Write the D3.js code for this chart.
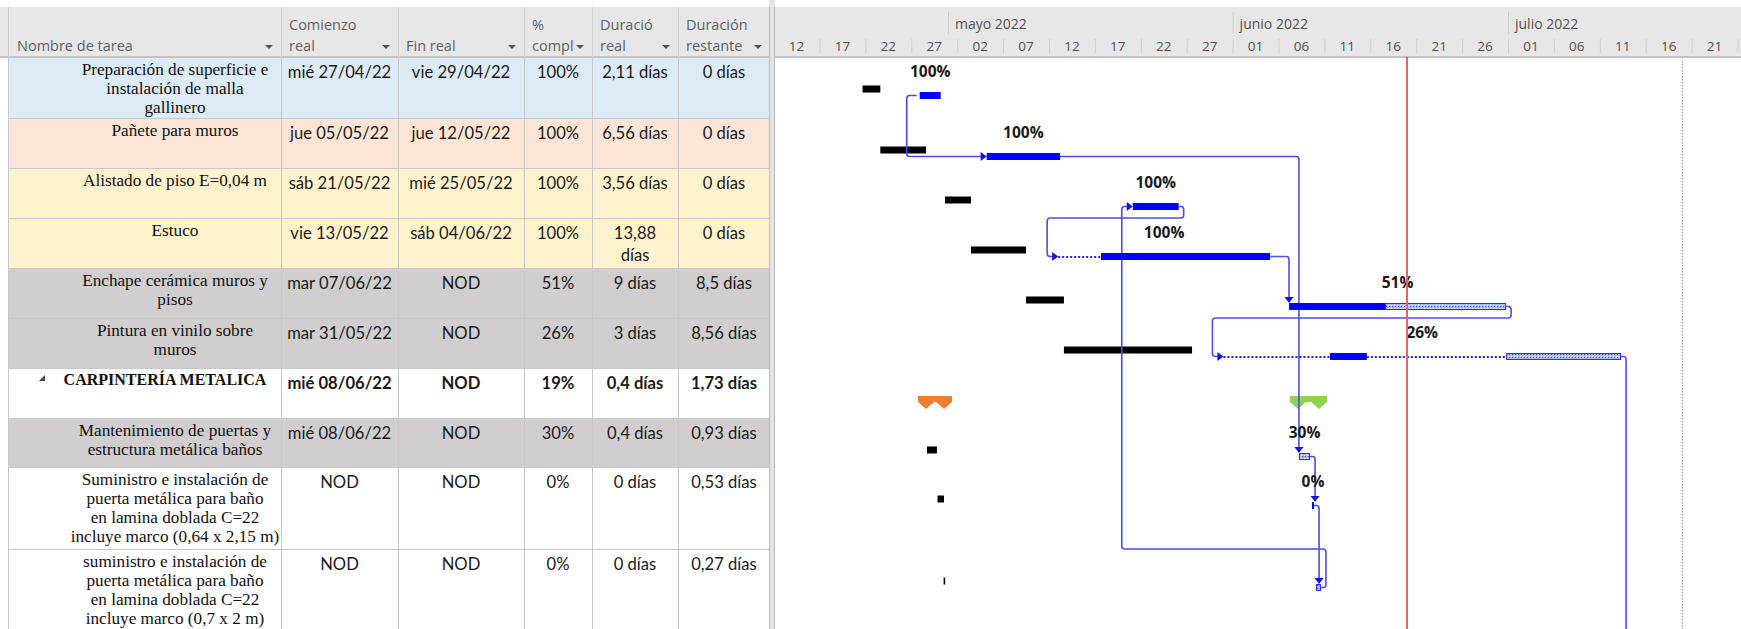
<!DOCTYPE html>
<html><head><meta charset="utf-8">
<script src="https://cdn.jsdelivr.net/npm/d3@7"></script>
<style>
html,body{margin:0;padding:0;background:#fff;overflow:hidden}
svg{display:block}
</style></head><body>
<svg id="c" width="1741" height="629"></svg>
<script>
// ---------------- DATA ----------------
const taskNames = [
  ["Preparación de superficie e","instalación de malla","gallinero"],
  ["Pañete para muros"],
  ["Alistado de piso E=0,04 m"],
  ["Estuco"],
  ["Enchape cerámica muros y","pisos"],
  ["Pintura en vinilo sobre","muros"],
  ["CARPINTERÍA METALICA"],
  ["Mantenimiento de puertas y","estructura metálica baños"],
  ["Suministro e instalación de","puerta metálica para baño","en lamina doblada C=22","incluye marco (0,64 x 2,15 m)"],
  ["suministro e instalación de","puerta metálica para baño","en lamina doblada C=22","incluye marco (0,7 x 2 m)"]
];
const isSummary = [false,false,false,false,false,false,true,false,false,false];
const comienzoReal = ["mié 27/04/22","jue 05/05/22","sáb 21/05/22","vie 13/05/22","mar 07/06/22","mar 31/05/22","mié 08/06/22","mié 08/06/22","NOD","NOD"];
const finReal = ["vie 29/04/22","jue 12/05/22","mié 25/05/22","sáb 04/06/22","NOD","NOD","NOD","NOD","NOD","NOD"];
const pctComp = ["100%","100%","100%","100%","51%","26%","19%","30%","0%","0%"];
const durReal = [["2,11 días"],["6,56 días"],["3,56 días"],["13,88","días"],["9 días"],["3 días"],["0,4 días"],["0,4 días"],["0 días"],["0 días"]];
const durRest = ["0 días","0 días","0 días","0 días","8,5 días","8,56 días","1,73 días","0,93 días","0,53 días","0,27 días"];
const headerLabels = [["Nombre de tarea"],["Comienzo","real"],["Fin real"],["%","compl"],["Duració","real"],["Duración","restante"]];

// black (baseline) bars
const baselineStart = ["2022-04-21T16:30","2022-04-23T15:00","2022-04-30T16:00","2022-05-03T12:00","2022-05-09T12:00","2022-05-13T15:00",null,"2022-04-28T17:00","2022-04-29T20:30","2022-04-30T12:30"];
const baselineEnd   = ["2022-04-23T15:00","2022-04-28T14:30","2022-05-03T12:00","2022-05-09T12:00","2022-05-13T15:00","2022-05-27T14:00",null,"2022-04-29T19:00","2022-04-30T13:30","2022-04-30T16:30"];

// actual bar segments: [kind, start, end]
const actualSegments = [
  [["solid","2022-04-27T22:00","2022-04-30T05:00"]],
  [["solid","2022-05-05T05:00","2022-05-13T05:00"]],
  [["solid","2022-05-21T03:00","2022-05-26T03:00"]],
  [["dotted","2022-05-13T00:00","2022-05-17T16:00"],["solid","2022-05-17T16:00","2022-06-05T02:00"]],
  [["solid","2022-06-07T03:30","2022-06-17T14:30"],["hatch","2022-06-17T14:30","2022-06-30T19:00"]],
  [["dotted","2022-05-31T00:00","2022-06-11T14:40"],["solid","2022-06-11T14:40","2022-06-15T15:00"],["dotted","2022-06-15T15:00","2022-06-30T19:00"],["hatch","2022-06-30T19:00","2022-07-13T07:40"]],
  [],
  [["hatch","2022-06-08T05:30","2022-06-09T10:30"]],
  [["solid","2022-06-09T15:30","2022-06-09T21:00"]],
  [["hatch","2022-06-10T02:00","2022-06-10T15:00"]]
];
const barLabels = ["100%","100%","100%","100%","51%","26%","","30%","0%",""];
const summaryBaseline = ["2022-04-27T17:30","2022-05-01T10:30"];
const summaryActual = ["2022-06-07T06:00","2022-06-11T06:45"];
// links: [from, to, type]  (to = 10 -> task below visible area)
const links = [[0,1,"SS"],[1,7,"FS"],[2,3,"FS"],[3,4,"FS"],[4,5,"FS"],[5,10,"FS"],[7,8,"FS"],[8,9,"FS"],[9,2,"FS"]];

const tickDates = ["2022-04-12","2022-04-17","2022-04-22","2022-04-27","2022-05-02","2022-05-07","2022-05-12","2022-05-17","2022-05-22","2022-05-27","2022-06-01","2022-06-06","2022-06-11","2022-06-16","2022-06-21","2022-06-26","2022-07-01","2022-07-06","2022-07-11","2022-07-16","2022-07-21","2022-07-26"];
const monthStarts = ["2022-05-01","2022-06-01","2022-07-01"];
const monthLabels = ["mayo 2022","junio 2022","julio 2022"];
const statusDate = "2022-06-20";
const guideDate = "2022-07-20T00:00";

// ---------------- LAYOUT ----------------
const W = 1741, H = 629;
const colX = [8,281,398,524,592,678,770];
const rowHeights = [61,50,50,50,50,50,50,49,82,80];
const headerTop = 7, headerBottom = 57;
const tlLeft = 775;
const rowColors = ["#ddebf7","#fce4d6","#fff2cc","#fff2cc","#d0cece","#d0cece","#ffffff","#d0cece","#ffffff","#ffffff"];
const rowTops = [];
{ let y = 58; rowHeights.forEach(h => { rowTops.push(y); y += h; }); }

const pT = d3.timeParse("%Y-%m-%dT%H:%M");
const pD = d3.timeParse("%Y-%m-%d");
const P = s => pT(s) || pD(s);

const x = d3.scaleTime()
  .domain([P("2022-04-12"), P("2022-07-27")])
  .range([773.6, 773.6 + 106 * 9.18]);

const svg = d3.select("#c");
const defs = svg.append("defs");
defs.append("clipPath").attr("id","tl").append("rect")
  .attr("x", tlLeft).attr("y", 0).attr("width", W - tlLeft).attr("height", H);
const pat = defs.append("pattern").attr("id","hatch").attr("patternUnits","userSpaceOnUse")
  .attr("width",3).attr("height",3);
pat.append("rect").attr("width",3).attr("height",3).attr("fill","#b4b8ff");
pat.append("rect").attr("width",1).attr("height",1).attr("fill","#3c3cff");
pat.append("rect").attr("x",2).attr("y",2).attr("width",1).attr("height",1).attr("fill","#ffffff");
defs.append("clipPath").attr("id","pc").append("rect")
  .attr("x", colX[3]).attr("y", 0).attr("width", colX[4]-colX[3]-18).attr("height", 60);

svg.append("rect").attr("width",W).attr("height",H).attr("fill","#fff");

// ---------------- TABLE ----------------
const table = svg.append("g");
rowTops.forEach((t,i) => {
  table.append("rect").attr("x", colX[0]).attr("y", t).attr("width", colX[6]-colX[0]).attr("height", rowHeights[i]).attr("fill", rowColors[i]);
});
rowTops.forEach((t,i) => {
  table.append("line").attr("x1",colX[0]).attr("x2",colX[6]).attr("y1",t+rowHeights[i]-0.5).attr("y2",t+rowHeights[i]-0.5)
    .attr("stroke","#c8c8c8").attr("stroke-width",1);
});
colX.forEach(cx => {
  table.append("line").attr("x1",cx+0.5).attr("x2",cx+0.5).attr("y1",headerBottom).attr("y2",H)
    .attr("stroke","#c8c8c8").attr("stroke-width",1);
});

const serif = "'Liberation Serif', 'Times New Roman', serif";
const sans = "Lato, 'Open Sans', sans-serif";
const uiFont = "'Open Sans', 'Noto Sans', sans-serif";

taskNames.forEach((lines,i) => {
  const t = rowTops[i];
  if (isSummary[i]) {
    table.append("path").attr("d", `M45,${t+6} L45,${t+12} L39,${t+12} Z`).attr("fill","#444");
    table.append("text").attr("x",165).attr("y",t+10).attr("dominant-baseline","central")
      .attr("text-anchor","middle").attr("font-family",serif).attr("font-size",16).attr("font-weight","bold")
      .attr("fill","#111").text(lines[0]);
  } else {
    const tx = table.append("text").attr("text-anchor","middle").attr("font-family",serif)
      .attr("font-size",17.2).attr("fill","#111");
    lines.forEach((l,j) => tx.append("tspan").attr("x",175).attr("y",t+11+j*19).attr("dominant-baseline","central").text(l));
  }
});

const cols = [comienzoReal, finReal, pctComp, durReal, durRest];
cols.forEach((arr,c) => {
  const cx = (colX[c+1] + colX[c+2]) / 2;
  arr.forEach((v,i) => {
    const lines = Array.isArray(v) ? v : [v];
    const tx = table.append("text").attr("text-anchor","middle").attr("font-family",sans)
      .attr("font-size",16.6).attr("fill","#1a1a1a").attr("font-weight", isSummary[i] ? "bold" : "normal");
    lines.forEach((l,j) => tx.append("tspan").attr("x",cx).attr("y",rowTops[i]+14+j*22).attr("dominant-baseline","central").text(l));
  });
});

// ---------------- HEADER ----------------
const hdr = svg.append("g");
hdr.append("rect").attr("x",0).attr("y",headerTop).attr("width",W).attr("height",headerBottom-headerTop).attr("fill","#e7e7e7");
hdr.append("line").attr("x1",0).attr("x2",W).attr("y1",headerBottom).attr("y2",headerBottom).attr("stroke","#c4c4c4").attr("stroke-width",2);
colX.slice(1,6).forEach(cx => hdr.append("line").attr("x1",cx+0.5).attr("x2",cx+0.5).attr("y1",headerTop).attr("y2",headerBottom).attr("stroke","#d2d2d2"));
hdr.append("line").attr("x1",colX[0]+0.5).attr("x2",colX[0]+0.5).attr("y1",headerTop).attr("y2",H).attr("stroke","#c8c8c8");
headerLabels.forEach((lines,c) => {
  const tx = hdr.append("text").attr("font-family",uiFont).attr("font-size",14.5).attr("fill","#5f5f5f");
  if (c === 3) tx.attr("clip-path","url(#pc)");
  const n = lines.length;
  lines.forEach((l,j) => tx.append("tspan").attr("x",colX[c]+ (c===0?9:8)).attr("y",45 - (n-1-j)*21).attr("dominant-baseline","central").text(l));
  const ax = colX[c+1] - 12;
  hdr.append("path").attr("d",`M${ax-4},45 L${ax+4},45 L${ax},49 Z`).attr("fill","#555");
});

// timescale
const ts = svg.append("g").attr("clip-path","url(#tl)");
const tds = tickDates.map(P);
tds.forEach((d,i) => {
  const xx = x(d);
  ts.append("line").attr("x1",xx+0.5).attr("x2",xx+0.5).attr("y1",39).attr("y2",headerBottom-4).attr("stroke","#cfcfcf");
  if (i < tds.length-1) {
    const xm = (xx + x(tds[i+1]))/2;
    ts.append("text").attr("x",xm).attr("y",46).attr("dominant-baseline","central").attr("text-anchor","middle")
      .attr("font-family",uiFont).attr("font-size",13.5).attr("fill","#505050").text(d3.timeFormat("%d")(d));
  }
});
monthStarts.forEach((m,i) => {
  const xx = x(P(m));
  ts.append("line").attr("x1",xx+0.5).attr("x2",xx+0.5).attr("y1",12).attr("y2",34).attr("stroke","#cfcfcf");
  ts.append("text").attr("x",xx+7).attr("y",23).attr("dominant-baseline","central")
    .attr("font-family",uiFont).attr("font-size",14).attr("fill","#505050").text(monthLabels[i]);
});

// divider between table and timeline
svg.append("rect").attr("x",769).attr("y",0).attr("width",6).attr("height",H).attr("fill","#e4e4e4");
svg.append("line").attr("x1",769.5).attr("x2",769.5).attr("y1",headerTop).attr("y2",H).attr("stroke","#b9b9b9");
svg.append("line").attr("x1",774.5).attr("x2",774.5).attr("y1",headerTop).attr("y2",H).attr("stroke","#b9b9b9");

// ---------------- CHART ----------------
const ch = svg.append("g").attr("clip-path","url(#tl)");
ch.append("line").attr("x1",x(P(guideDate))).attr("x2",x(P(guideDate))).attr("y1",headerBottom+4).attr("y2",H)
  .attr("stroke","#9a9a9a").attr("stroke-width",1.2).attr("stroke-dasharray","1.5,1.5");

const blueY = i => rowTops[i] + 34, blueH = 7;
const blackY = i => rowTops[i] + 27.5, blackH = 7;
const cy = i => blueY(i) + blueH/2;

baselineStart.forEach((s,i) => {
  if (!s) return;
  const x1 = x(P(s)), x2 = x(P(baselineEnd[i]));
  ch.append("rect").attr("x",x1).attr("y",blackY(i)).attr("width",Math.max(1.5,x2-x1)).attr("height",blackH).attr("fill","#000");
});

function summaryShape(r, color, i) {
  const x1 = x(P(r[0])), x2 = x(P(r[1])), y0 = rowTops[i] + 27;
  const w = Math.min(16,(x2-x1)/2);
  ch.append("path").attr("fill",color).attr("d",
    `M${x1},${y0} H${x2} V${y0+6} L${x2-w/2},${y0+13} L${x2-w},${y0+6} H${x1+w} L${x1+w/2},${y0+13} L${x1},${y0+6} Z`);
}
summaryShape(summaryBaseline, "#ed7d31", 6);
summaryShape(summaryActual, "#92d050", 6);

function rounded(pts, r) {
  let d = `M${pts[0][0]},${pts[0][1]}`;
  for (let k = 1; k < pts.length - 1; k++) {
    const p0 = pts[k-1], p1 = pts[k], p2 = pts[k+1];
    const l1 = Math.hypot(p1[0]-p0[0], p1[1]-p0[1]), l2 = Math.hypot(p2[0]-p1[0], p2[1]-p1[1]);
    const r1 = Math.min(r, l1/2), r2 = Math.min(r, l2/2);
    const a = [p1[0] - (p1[0]-p0[0])/l1*r1, p1[1] - (p1[1]-p0[1])/l1*r1];
    const b = [p1[0] + (p2[0]-p1[0])/l2*r2, p1[1] + (p2[1]-p1[1])/l2*r2];
    d += ` L${a[0]},${a[1]} Q${p1[0]},${p1[1]} ${b[0]},${b[1]}`;
  }
  const e = pts[pts.length-1];
  return d + ` L${e[0]},${e[1]}`;
}
const segStart = i => x(P(actualSegments[i][0][1]));
const segEnd = i => x(P(actualSegments[i][actualSegments[i].length-1][2]));
const linkColor = "#4b4bf5";
const lg = ch.append("g");
function arrowRight(tx, ty) { lg.append("path").attr("d",`M${tx},${ty} L${tx-6},${ty-4.5} L${tx-6},${ty+4.5} Z`).attr("fill","#1010e0"); }
function arrowDown(tx, ty) { lg.append("path").attr("d",`M${tx},${ty} L${tx-4.5},${ty-6} L${tx+4.5},${ty-6} Z`).attr("fill","#1010e0"); }
links.forEach(([s,t,type]) => {
  let pts;
  const sy = cy(s);
  if (type === "SS") {
    const sx = segStart(s), tx = segStart(t), ty = cy(t);
    pts = [[sx-3,sy],[sx-13,sy],[sx-13,ty],[tx-5,ty]];
    arrowRight(tx, ty);
  } else if (t >= rowTops.length) {
    const se = segEnd(s);
    pts = [[se,sy],[se+5,sy],[se+5,H+10]];
  } else {
    const se = segEnd(s), tx = segStart(t), ty = cy(t);
    if (t > s && tx >= se - 3) {
      const vx = Math.max(tx, se + 5);
      pts = [[se,sy],[vx,sy],[vx,blueY(t)-5]];
      arrowDown(vx, blueY(t));
    } else {
      const hy = t > s ? rowTops[s] + rowHeights[s] - 1 : rowTops[s] - 1;
      const lx = tx - 11;
      pts = [[se,sy],[se+5,sy],[se+5,hy],[lx,hy],[lx,ty],[tx-5,ty]];
      arrowRight(tx, ty);
    }
  }
  lg.insert("path",":first-child").attr("d", rounded(pts,3)).attr("fill","none").attr("stroke",linkColor).attr("stroke-width",1.6);
});

actualSegments.forEach((segs,i) => {
  segs.forEach(([kind,s,e]) => {
    const x1 = x(P(s)), x2 = x(P(e));
    if (kind === "solid") {
      ch.append("rect").attr("x",x1).attr("y",blueY(i)).attr("width",Math.max(2,x2-x1)).attr("height",blueH).attr("fill","#0000ff");
    } else if (kind === "hatch") {
      ch.append("rect").attr("x",x1+0.5).attr("y",blueY(i)+0.5).attr("width",Math.max(2,x2-x1-1)).attr("height",blueH-1)
        .attr("fill","url(#hatch)").attr("stroke","#2a2aff").attr("stroke-width",1);
    } else {
      ch.append("line").attr("x1",x1).attr("x2",x2).attr("y1",cy(i)+0.5).attr("y2",cy(i)+0.5)
        .attr("stroke","#2020ff").attr("stroke-width",2).attr("stroke-dasharray","2,2");
    }
  });
});

barLabels.forEach((l,i) => {
  if (!l) return;
  const xm = (segStart(i) + segEnd(i)) / 2;
  ch.append("text").attr("x",xm).attr("y",rowTops[i]+13).attr("dominant-baseline","central").attr("text-anchor","middle")
    .attr("font-family",uiFont).attr("font-weight","bold").attr("font-size",15.5).attr("fill","#1a1a1a").text(l);
});

ch.append("line").attr("x1",x(P(statusDate))).attr("x2",x(P(statusDate))).attr("y1",headerBottom).attr("y2",H)
  .attr("stroke","#ff5a5a").attr("stroke-width",2);
</script>
</body></html>
